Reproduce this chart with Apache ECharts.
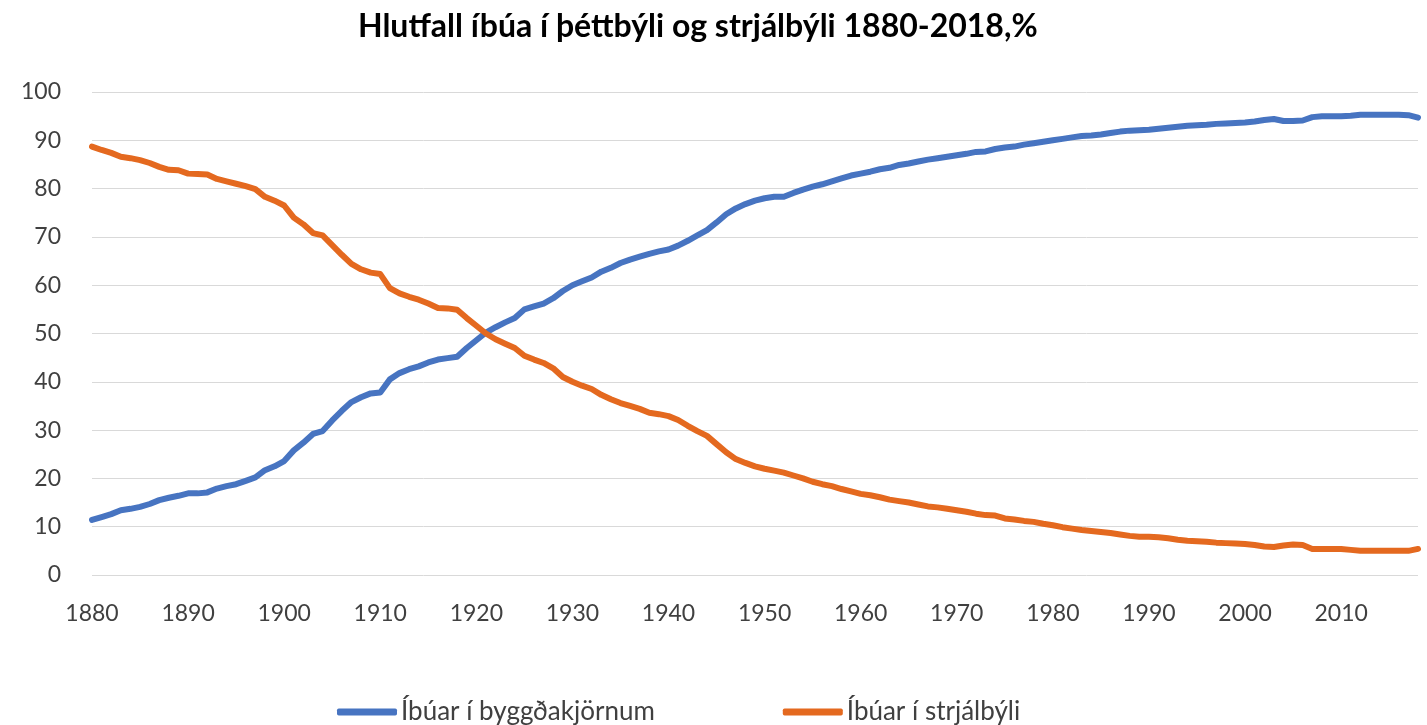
<!DOCTYPE html>
<html>
<head>
<meta charset="utf-8">
<script src="https://cdn.jsdelivr.net/npm/echarts@6/dist/echarts.min.js"></script>
<style>
  html, body { margin: 0; padding: 0; background: #fff; }
  #chart { width: 1427px; height: 725px; }
</style>
</head>
<body>
<div id="chart"></div>
<script>
// ár 1880-2018
var years = [];
for (var y = 1880; y <= 2018; y++) years.push(String(y));

// Íbúar í byggðakjörnum, %
var urban = [
  11.4, 12.0, 12.6, 13.4, 13.7, 14.1, 14.7, 15.5, 16.0, 16.4,
  16.9, 16.9, 17.1, 17.9, 18.4, 18.8, 19.5, 20.2, 21.7, 22.5,
  23.6, 25.8, 27.4, 29.2, 29.8, 32.0, 34.0, 35.8, 36.8, 37.6,
  37.8, 40.5, 41.8, 42.6, 43.2, 44.0, 44.6, 44.9, 45.2, 47.0,
  48.6, 50.2, 51.3, 52.3, 53.2, 55.0, 55.6, 56.2, 57.3, 58.8,
  60.0, 60.8, 61.6, 62.8, 63.6, 64.6, 65.3, 65.9, 66.5, 67.0,
  67.4, 68.2, 69.2, 70.3, 71.4, 73.0, 74.7, 75.9, 76.8, 77.5,
  78.0, 78.3, 78.3, 79.1, 79.8, 80.4, 80.9, 81.5, 82.1, 82.7,
  83.1, 83.5, 84.0, 84.3, 84.9, 85.2, 85.6, 86.0, 86.3, 86.6,
  86.9, 87.2, 87.6, 87.7, 88.2, 88.5, 88.7, 89.1, 89.4, 89.7,
  90.0, 90.3, 90.6, 90.9, 91.0, 91.2, 91.5, 91.8, 92.0, 92.1,
  92.2, 92.4, 92.6, 92.8, 93.0, 93.1, 93.2, 93.4, 93.5, 93.6,
  93.7, 93.9, 94.2, 94.4, 94.0, 94.0, 94.1, 94.8, 95.0, 95.0,
  95.0, 95.1, 95.3, 95.3, 95.3, 95.3, 95.3, 95.2, 94.7
];

// Íbúar í strjálbýli, %
var rural = [
  88.7, 88.0, 87.4, 86.6, 86.3, 85.9, 85.3, 84.5, 83.9, 83.8,
  83.1, 83.0, 82.9, 82.0, 81.5, 81.0, 80.5, 79.9, 78.3, 77.5,
  76.5, 74.0, 72.6, 70.8, 70.3, 68.3, 66.3, 64.4, 63.3, 62.6,
  62.3, 59.4, 58.3, 57.6, 57.0, 56.2, 55.3, 55.2, 54.9, 53.2,
  51.6, 50.0, 48.8, 47.9, 47.0, 45.4, 44.6, 43.9, 42.8, 41.0,
  40.0, 39.2, 38.5, 37.3, 36.4, 35.6, 35.0, 34.4, 33.6, 33.3,
  32.9, 32.1, 30.9, 29.8, 28.8, 27.1, 25.4, 24.0, 23.2, 22.5,
  22.0, 21.6, 21.2, 20.6, 20.0, 19.3, 18.8, 18.4, 17.8, 17.3,
  16.8, 16.5, 16.1, 15.6, 15.3, 15.0, 14.6, 14.2, 14.0, 13.7,
  13.4, 13.1, 12.7, 12.4, 12.3, 11.7, 11.5, 11.2, 11.0, 10.6,
  10.3, 9.9, 9.6, 9.3, 9.1, 8.9, 8.7, 8.4, 8.1, 7.9,
  7.9, 7.8, 7.6, 7.3, 7.1, 7.0, 6.9, 6.7, 6.6, 6.5,
  6.4, 6.2, 5.9, 5.8, 6.1, 6.3, 6.2, 5.4, 5.4, 5.4,
  5.4, 5.2, 5.0, 5.0, 5.0, 5.0, 5.0, 5.0, 5.4
];

var chart = echarts.init(document.getElementById('chart'));

var font = 'Lato, "Open Sans", sans-serif';

chart.setOption({
  animation: false,
  title: {
    text: 'Hlutfall íbúa í þéttbýli og strjálbýli 1880-2018,%',
    left: 353,
    top: 6,
    textStyle: { fontFamily: font, fontSize: 32, fontWeight: 'bold', color: '#000' }
  },
  legend: {
    top: 694,
    left: 332,
    itemGap: 128,
    itemWidth: 60,
    itemHeight: 7,
    icon: 'roundRect',
    textStyle: { fontFamily: font, fontSize: 26, color: '#404040', padding: [0, 0, 0, -1] },
    data: ['Íbúar í byggðakjörnum', 'Íbúar í strjálbýli']
  },
  grid: { left: 92, right: 9, top: 92, bottom: 150 },
  xAxis: {
    type: 'category',
    data: years,
    boundaryGap: false,
    axisLine: { show: false },
    axisTick: { show: false },
    axisLabel: {
      interval: 9,
      margin: 27,
      fontFamily: font,
      fontSize: 23,
      color: '#404040'
    }
  },
  yAxis: {
    type: 'value',
    min: 0,
    max: 100,
    interval: 10,
    axisLine: { show: false },
    axisTick: { show: false },
    axisLabel: { margin: 31, fontFamily: font, fontSize: 23, color: '#404040' },
    splitLine: { lineStyle: { color: '#d9d9d9', width: 1 } }
  },
  series: [
    {
      name: 'Íbúar í byggðakjörnum',
      type: 'line',
      data: urban,
      showSymbol: false,
      color: '#4774c1',
      lineStyle: { width: 6, cap: 'round', join: 'round' }
    },
    {
      name: 'Íbúar í strjálbýli',
      type: 'line',
      data: rural,
      showSymbol: false,
      color: '#e4691f',
      lineStyle: { width: 6, cap: 'round', join: 'round' }
    }
  ]
});
</script>
</body>
</html>
